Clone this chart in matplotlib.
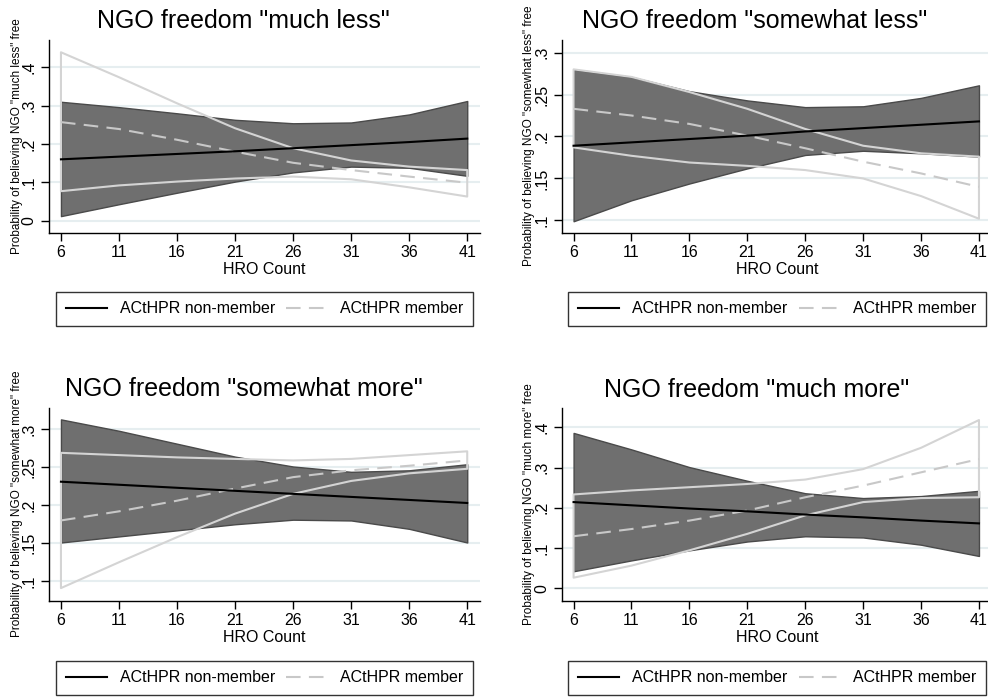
import numpy as np
import matplotlib
matplotlib.use("Agg")
import matplotlib.pyplot as plt
from matplotlib.lines import Line2D

plt.rcParams['font.family'] = ['Liberation Sans', 'DejaVu Sans']

# HRO count values on the x axis
hro = [6, 11, 16, 21, 26, 31, 36, 41]

titles = ['NGO freedom "much less"', 'NGO freedom "somewhat less"',
          'NGO freedom "somewhat more"', 'NGO freedom "much more"']
ylabels = ['Probability of believing NGO "much less" free',
           'Probability of believing NGO "somewhat less" free',
           'Probability of believing NGO "somewhat more" free',
           'Probability of believing NGO "much more" free']

# non-member predicted probability and 95% CI
nonmem = [
    [0.160, 0.167, 0.174, 0.181, 0.189, 0.197, 0.205, 0.214],
    [0.189, 0.193, 0.197, 0.201, 0.206, 0.210, 0.214, 0.218],
    [0.231, 0.227, 0.223, 0.219, 0.215, 0.211, 0.207, 0.203],
    [0.214, 0.206, 0.198, 0.191, 0.183, 0.176, 0.168, 0.161],
]
nonmem_hi = [
    [0.310, 0.296, 0.280, 0.263, 0.254, 0.256, 0.277, 0.312],
    [0.280, 0.271, 0.254, 0.243, 0.235, 0.236, 0.246, 0.261],
    [0.313, 0.298, 0.281, 0.264, 0.251, 0.244, 0.246, 0.254],
    [0.386, 0.345, 0.301, 0.267, 0.236, 0.224, 0.229, 0.242],
]
nonmem_lo = [
    [0.012, 0.043, 0.073, 0.102, 0.126, 0.141, 0.138, 0.117],
    [0.099, 0.124, 0.144, 0.162, 0.178, 0.183, 0.180, 0.176],
    [0.151, 0.159, 0.167, 0.175, 0.181, 0.180, 0.169, 0.151],
    [0.042, 0.069, 0.094, 0.116, 0.129, 0.126, 0.108, 0.080],
]

# member predicted probability and 95% CI
member = [
    [0.257, 0.239, 0.211, 0.180, 0.151, 0.132, 0.115, 0.099],
    [0.233, 0.225, 0.215, 0.201, 0.186, 0.170, 0.156, 0.140],
    [0.180, 0.192, 0.206, 0.222, 0.237, 0.246, 0.252, 0.259],
    [0.129, 0.147, 0.168, 0.193, 0.226, 0.255, 0.288, 0.321],
]
member_hi = [
    [0.439, 0.374, 0.306, 0.241, 0.189, 0.157, 0.141, 0.132],
    [0.280, 0.271, 0.253, 0.233, 0.209, 0.189, 0.180, 0.176],
    [0.269, 0.266, 0.263, 0.261, 0.259, 0.261, 0.266, 0.271],
    [0.233, 0.243, 0.251, 0.259, 0.270, 0.296, 0.349, 0.418],
]
member_lo = [
    [0.077, 0.092, 0.102, 0.110, 0.115, 0.108, 0.087, 0.063],
    [0.187, 0.177, 0.169, 0.165, 0.160, 0.150, 0.129, 0.102],
    [0.091, 0.125, 0.158, 0.189, 0.215, 0.232, 0.242, 0.248],
    [0.026, 0.056, 0.094, 0.135, 0.181, 0.214, 0.224, 0.226],
]

yticks = [
    [0, 0.1, 0.2, 0.3, 0.4],
    [0.1, 0.15, 0.2, 0.25, 0.3],
    [0.1, 0.15, 0.2, 0.25, 0.3],
    [0, 0.1, 0.2, 0.3, 0.4],
]
yticklabels = [
    ['0', '.1', '.2', '.3', '.4'],
    ['.1', '.15', '.2', '.25', '.3'],
    ['.1', '.15', '.2', '.25', '.3'],
    ['0', '.1', '.2', '.3', '.4'],
]

W, H = 988, 698
fig = plt.figure(figsize=(W / 100, H / 100), dpi=100)

# pixel boxes (left, right, top, bottom) and axis limits for each panel
boxes = [(49, 480, 40, 233), (562, 988, 40, 233),
         (49, 480, 408, 601), (562, 988, 408, 601)]
xlims = [(4.97, 42.1), (5.0, 41.78), (4.97, 42.1), (5.0, 41.78)]
ylims = [(-0.032, 0.471), (0.085, 0.315), (0.074, 0.328), (-0.032, 0.448)]

title_pos = [(243, 21), (755, 21), (244, 389), (757, 390)]
ylab_pos = [(17, 136), (529, 136), (17, 504), (529, 504)]
xlab_pos = [(264, 270), (777, 270), (264, 638), (777, 638)]
legend_box = [(56, 473, 290, 328), (568, 986, 290, 328),
              (56, 473, 660, 696), (568, 986, 660, 696)]

band_col = '#6f6f6f'
light = '#d4d4d4'
grid_col = '#e6eef0'

for i in range(4):
    l, r, t, b = boxes[i]
    ax = fig.add_axes([l / W, 1 - b / H, (r - l) / W, (b - t) / H])
    ax.fill_between(hro, nonmem_lo[i], nonmem_hi[i], facecolor=band_col,
                    edgecolor='#4a4a4a', linewidth=1.0, zorder=2)
    ax.fill_between(hro, member_lo[i], member_hi[i], facecolor='none',
                    edgecolor=light, linewidth=1.5, zorder=3)
    ax.plot(hro, member[i], color='#c8c8c8', linewidth=1.5,
            dashes=(7, 4), zorder=4)
    ax.plot(hro, nonmem[i], color='black', linewidth=1.5, zorder=5)

    ax.set_xlim(*xlims[i])
    ax.set_ylim(*ylims[i])
    ax.set_xticks(hro)
    ax.set_yticks(yticks[i])
    ax.set_yticklabels(yticklabels[i], rotation=90, va='center')
    ax.tick_params(labelsize=11.5, length=5.8, width=1, pad=3)
    ax.tick_params(axis='y', pad=3)
    for s in ['top', 'right']:
        ax.spines[s].set_visible(False)
    for s in ['left', 'bottom']:
        ax.spines[s].set_linewidth(1)
    ax.grid(axis='y', color=grid_col, linewidth=1.5, zorder=0)
    ax.set_axisbelow(True)

    tx, ty = title_pos[i]
    fig.text(tx / W, 1 - ty / H, titles[i], fontsize=18, ha='center', va='center')
    yx, yy = ylab_pos[i]
    fig.text(yx / W, 1 - yy / H, ylabels[i], fontsize=8.5, rotation=90,
             ha='center', va='center')
    xx, xy = xlab_pos[i]
    fig.text(xx / W, 1 - xy / H, 'HRO Count', fontsize=11.5, ha='center', va='center')

    ll, lr, lt, lb = legend_box[i]
    handles = [Line2D([], [], color='black', linewidth=1.5),
               Line2D([], [], color='#c8c8c8', linewidth=1.5, dashes=(7, 4))]
    leg = ax.legend(handles, ['ACtHPR non-member', 'ACtHPR member'],
                    bbox_to_anchor=(ll / W, 1 - lb / H, (lr - ll) / W, (lb - lt) / H),
                    bbox_transform=fig.transFigure, loc='center', mode='expand',
                    ncol=2, fontsize=11.5, frameon=True, fancybox=False,
                    edgecolor='black', handlelength=2.6, handletextpad=0.8,
                    columnspacing=1.6, borderpad=0.6, borderaxespad=0)
    leg.get_frame().set_linewidth(1)

fig.savefig('out.png', dpi=100)
